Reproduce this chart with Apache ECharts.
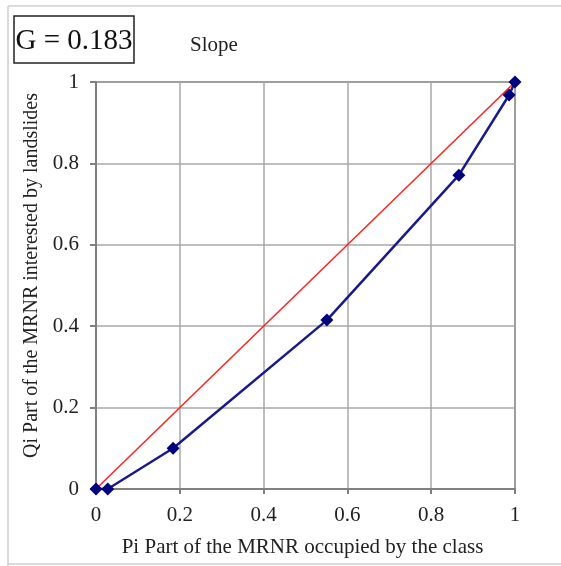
<!DOCTYPE html>
<html><head><meta charset="utf-8">
<script src="https://cdn.jsdelivr.net/npm/echarts@6/dist/echarts.min.js"></script>
<style>html,body{margin:0;padding:0;background:#fff}#c{width:561px;height:566px}</style>
</head><body><div id="c"></div>
<script>
const piValues = [0, 0.028, 0.184, 0.551, 0.866, 0.986, 1];
const qiValues = [0, 0, 0.100, 0.415, 0.771, 0.968, 1];
const equalityLine = [[0, 0], [1, 1]];
const tickLabels = ['0', '0.2', '0.4', '0.6', '0.8', '1'];
const titleText = 'Slope';
const giniText = 'G = 0.183';
const xName = 'Pi Part of the MRNR occupied by the class';
const yName = 'Qi Part of the MRNR interested by landslides';

const font = '"Liberation Serif", "DejaVu Serif", serif';
const fmt = v => tickLabels[Math.round(v * 5)];
const chart = echarts.init(document.getElementById('c'), null, {renderer: 'canvas'});
chart.setOption({
  animation: false,
  backgroundColor: '#fff',
  grid: {left: 96, right: 46, top: 82, bottom: 77, show: true, borderColor: '#808080', borderWidth: 2},
  graphic: [
    {type: 'line', shape: {x1: 8, y1: 6, x2: 561, y2: 6}, style: {stroke: '#cfcfcf', lineWidth: 1.5}},
    {type: 'line', shape: {x1: 8, y1: 6, x2: 8, y2: 566}, style: {stroke: '#cfcfcf', lineWidth: 1.5}},
    {type: 'line', shape: {x1: 8, y1: 564, x2: 561, y2: 564}, style: {stroke: '#cfcfcf', lineWidth: 1.5}},
    {type: 'rect', shape: {x: 14, y: 16, width: 120, height: 47}, style: {fill: '#fff', stroke: '#222', lineWidth: 1.5}},
    {type: 'text', x: 74, y: 41, style: {text: giniText, font: '29px ' + font, fill: '#111', align: 'center', verticalAlign: 'middle'}},
    {type: 'text', x: 214, y: 45, style: {text: titleText, font: '21px ' + font, fill: '#222', align: 'center', verticalAlign: 'middle'}}
  ],
  xAxis: {
    type: 'value', min: 0, max: 1, interval: 0.2,
    name: xName, nameLocation: 'middle', nameGap: 48,
    nameTextStyle: {fontFamily: font, fontSize: 21, color: '#222', padding: [0, 6, 0, 0]},
    axisLine: {show: true, lineStyle: {color: '#808080', width: 2}},
    axisTick: {show: true, length: 5, lineStyle: {color: '#808080', width: 2}},
    axisLabel: {fontFamily: font, fontSize: 21, color: '#222', margin: 16, formatter: fmt},
    splitLine: {show: true, lineStyle: {color: '#a8a8a8', width: 1.5}}
  },
  yAxis: {
    type: 'value', min: 0, max: 1, interval: 0.2,
    name: yName, nameLocation: 'middle', nameGap: 53, nameRotate: 90,
    nameTextStyle: {fontFamily: font, fontSize: 20, color: '#222', padding: [0, 0, 0, 20]},
    axisLine: {show: true, lineStyle: {color: '#808080', width: 2}},
    axisTick: {show: true, length: 6, lineStyle: {color: '#808080', width: 2}},
    axisLabel: {fontFamily: font, fontSize: 21, color: '#222', margin: 17, formatter: fmt},
    splitLine: {show: true, lineStyle: {color: '#a8a8a8', width: 1.5}}
  },
  series: [
    {type: 'line', data: equalityLine, symbol: 'none', lineStyle: {color: '#ff2020', width: 1.5}, z: 3},
    {type: 'line', data: piValues.map((p, i) => [p, qiValues[i]]), symbol: 'diamond', symbolSize: 13,
     itemStyle: {color: '#00007f'}, lineStyle: {color: '#1a1a8c', width: 2.5}, z: 4}
  ]
});
</script></body></html>
